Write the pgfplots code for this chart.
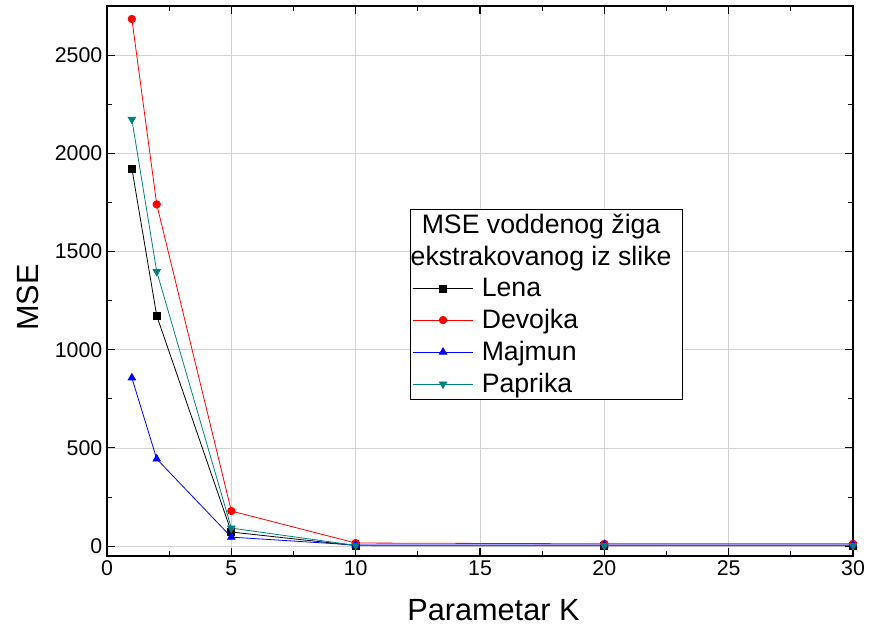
\documentclass[border=0pt]{standalone}
\usepackage{pgfplots}
\pgfplotsset{compat=1.18}
\usepackage{fontspec}
\setmainfont{Liberation Sans}
\definecolor{tealc}{RGB}{0,128,128}
\begin{document}
\begin{tikzpicture}
\begin{axis}[
  name=ax,
  scale only axis,
  width=559.5pt, height=412.5pt,
  xmin=0, xmax=30, ymin=-50, ymax=2750,
  xtick={0,5,...,30}, ytick={0,500,...,2500},
  minor x tick num=1, minor y tick num=1,
  tick align=inside,
  major tick length=6pt, minor tick length=3.5pt,
  every tick/.style={black, line width=0.8pt},
  grid=major,
  major grid style={gray!35, line width=0.6pt},
  axis line style={line width=0.9pt},
  /pgf/number format/assume math mode=true,
  /pgf/number format/1000 sep={},
  tick label style={font=\fontsize{16}{18}\selectfont},
  label style={font=\fontsize{23}{26}\selectfont},
  xlabel={Parametar K}, ylabel={MSE},
  xlabel style={at={(axis description cs:0.518,-0.098)}, anchor=center},
  ylabel style={at={(axis description cs:-0.1055,0.47)}, anchor=center},
  legend style={at={(0.406,0.284)}, anchor=south west, draw=black, line width=0.6pt,
    font=\fontsize{20}{23}\selectfont, inner sep=1.5pt, row sep=4pt,
    /tikz/every odd column/.append style={column sep=4pt}},
  legend cell align=left,
  legend image code/.code={\draw[mark repeat=2, mark phase=2, #1] plot coordinates {(0cm,0cm) (0.8cm,0cm) (1.6cm,0cm)};},
]
\addlegendimage{empty legend}
\addlegendentry{\hspace{-58pt}\makebox[205pt][c]{MSE voddenog žiga}}
\addlegendimage{empty legend}
\addlegendentry{\hspace{-58pt}\makebox[205pt][c]{ekstrakovanog iz slike}}
\addplot[black, mark=square*, mark size=2.6pt, line width=0.6pt] coordinates {(1,1923) (2,1173) (5,72) (10,3) (20,2) (30,2)};
\addlegendentry{Lena}
\addplot[red, mark=*, mark size=2.8pt, line width=0.6pt] coordinates {(1,2684) (2,1740) (5,179) (10,16) (20,12) (30,12)};
\addlegendentry{Devojka}
\addplot[blue, mark=triangle*, mark size=3.2pt, line width=0.6pt] coordinates {(1,857) (2,444) (5,46) (10,6) (20,6) (30,6)};
\addlegendentry{Majmun}
\addplot[tealc, mark=triangle*, mark options={rotate=180}, mark size=3.2pt, line width=0.6pt] coordinates {(1,2173) (2,1398) (5,92) (10,4) (20,3) (30,3)};
\addlegendentry{Paprika}
\end{axis}
\pgfresetboundingbox
\useasboundingbox ([xshift=-80.25pt,yshift=-55.5pt]ax.south west) rectangle ([xshift=12pt,yshift=4.5pt]ax.north east);
\end{tikzpicture}
\end{document}
